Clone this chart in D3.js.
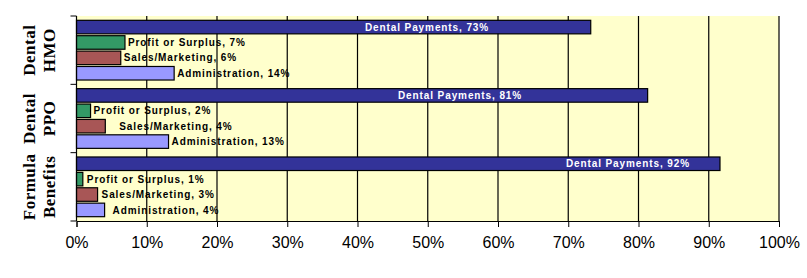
<!DOCTYPE html>
<html lang="en">
<head>
<meta charset="utf-8">
<script src="https://cdn.jsdelivr.net/npm/d3@7/dist/d3.min.js"></script>
<style>
  body { margin: 0; background: #fff; }
  .axis text { font-family: "Liberation Sans", Arial, sans-serif; font-size: 16px; fill: #000; }
  .axis line, .axis path { stroke: #000; }
  .lbl { font-family: "Liberation Sans", Arial, sans-serif; font-size: 10px; font-weight: bold; letter-spacing: 0.9px; }
  .grp { font-family: "Liberation Serif", "Times New Roman", serif; font-size: 17px; font-weight: bold; letter-spacing: 0.5px; }
</style>
</head>
<body>
<script>
// plan types, top to bottom
const groups = ["Dental HMO", "Dental PPO", "Formula Benefits"];
const groupLines = [["Dental", "HMO"], ["Dental", "PPO"], ["Formula", "Benefits"]];
// series, in drawing order inside each group
const series = ["Dental Payments", "Profit or Surplus", "Sales/Marketing", "Administration"];
const colors = ["#333399", "#339966", "#a85656", "#9999ff"];
// share of premium
const dentalPayments = [0.732, 0.813, 0.916];
const profitSurplus = [0.069, 0.020, 0.009];
const salesMarketing = [0.063, 0.041, 0.030];
const administration = [0.139, 0.131, 0.040];
// rounded figures printed in the labels
const labelPct = [[73, 7, 6, 14], [81, 2, 4, 13], [92, 1, 3, 4]];
const xTicks = [0, 0.1, 0.2, 0.3, 0.4, 0.5, 0.6, 0.7, 0.8, 0.9, 1.0];

const w = 807, h = 278;
const plotL = 76.5, plotR = 779, plotT = 16, plotB = 221;

// labels were dragged around by hand in the original
const dentalLabelAt = [0.499, 0.546, 0.785];          // centre of white label, in x units
const labelDx = [[0, 3, 3, 3], [0, 3, 14, 3], [0, 4, 4, 8]]; // gap after bar end, px

const svg = d3.select("body").append("svg")
  .attr("width", w).attr("height", h);

const x = d3.scaleLinear().domain([0, 1]).range([plotL, plotR]);
const yGroup = d3.scaleBand().domain(groups).range([plotT, plotB]);
const ySeries = d3.scaleBand().domain(series).range([0, yGroup.bandwidth()])
  .paddingInner(0.12).paddingOuter(0.28);

// plot background
svg.append("rect")
  .attr("x", plotL).attr("y", plotT)
  .attr("width", plotR - plotL).attr("height", plotB - plotT)
  .attr("fill", "#ffffcc");

// vertical gridlines
svg.append("g").selectAll("line")
  .data(xTicks.slice(1))
  .enter().append("line")
  .attr("x1", d => x(d)).attr("x2", d => x(d))
  .attr("y1", plotT).attr("y2", plotB)
  .attr("stroke", "#000").attr("stroke-width", 1.2);

const values = [dentalPayments, profitSurplus, salesMarketing, administration];

const rows = [];
groups.forEach((g, gi) => {
  series.forEach((s, si) => {
    rows.push({ g: g, gi: gi, s: s, si: si, v: values[si][gi] });
  });
});

svg.append("g").selectAll("rect")
  .data(rows)
  .enter().append("rect")
  .attr("x", x(0))
  .attr("y", d => yGroup(d.g) + ySeries(d.s))
  .attr("width", d => x(d.v) - x(0))
  .attr("height", ySeries.bandwidth())
  .attr("fill", d => colors[d.si])
  .attr("stroke", "#000")
  .attr("stroke-width", 1.2);

svg.append("g").selectAll("text")
  .data(rows)
  .enter().append("text")
  .attr("class", "lbl")
  .attr("x", d => d.si === 0 ? x(dentalLabelAt[d.gi]) : x(d.v) + labelDx[d.gi][d.si])
  .attr("y", d => yGroup(d.g) + ySeries(d.s) + ySeries.bandwidth() / 2)
  .attr("dy", "0.36em")
  .attr("text-anchor", d => d.si === 0 ? "middle" : "start")
  .attr("fill", d => d.si === 0 ? "#fff" : "#000")
  .text(d => d.s + ", " + labelPct[d.gi][d.si] + "%");

// x axis
const xAxis = d3.axisBottom(x).tickValues(xTicks).tickFormat(d3.format(".0%"))
  .tickSizeOuter(0).tickSize(6).tickPadding(10);
svg.append("g")
  .attr("class", "axis")
  .attr("transform", "translate(0," + plotB + ")")
  .call(xAxis);

// y axis: line with ticks at the group boundaries
const yAxisG = svg.append("g").attr("class", "axis");
yAxisG.append("line")
  .attr("x1", plotL).attr("x2", plotL).attr("y1", plotT).attr("y2", plotB)
  .attr("stroke", "#000").attr("stroke-width", 1.2);
yAxisG.selectAll(".tk")
  .data(groups.map(g => yGroup(g)).concat([plotB]))
  .enter().append("line")
  .attr("class", "tk")
  .attr("x1", plotL - 6).attr("x2", plotL)
  .attr("y1", d => d).attr("y2", d => d)
  .attr("stroke", "#000");

// group names, rotated
groups.forEach((g, gi) => {
  const cy = yGroup(g) + yGroup.bandwidth() / 2;
  const t = svg.append("text")
    .attr("class", "grp")
    .attr("text-anchor", "middle")
    .attr("transform", "translate(0," + cy + ") rotate(-90)");
  t.append("tspan").attr("x", 0).attr("y", 35).text(groupLines[gi][0]);
  t.append("tspan").attr("x", 0).attr("y", 55).text(groupLines[gi][1]);
});
</script>
</body>
</html>
